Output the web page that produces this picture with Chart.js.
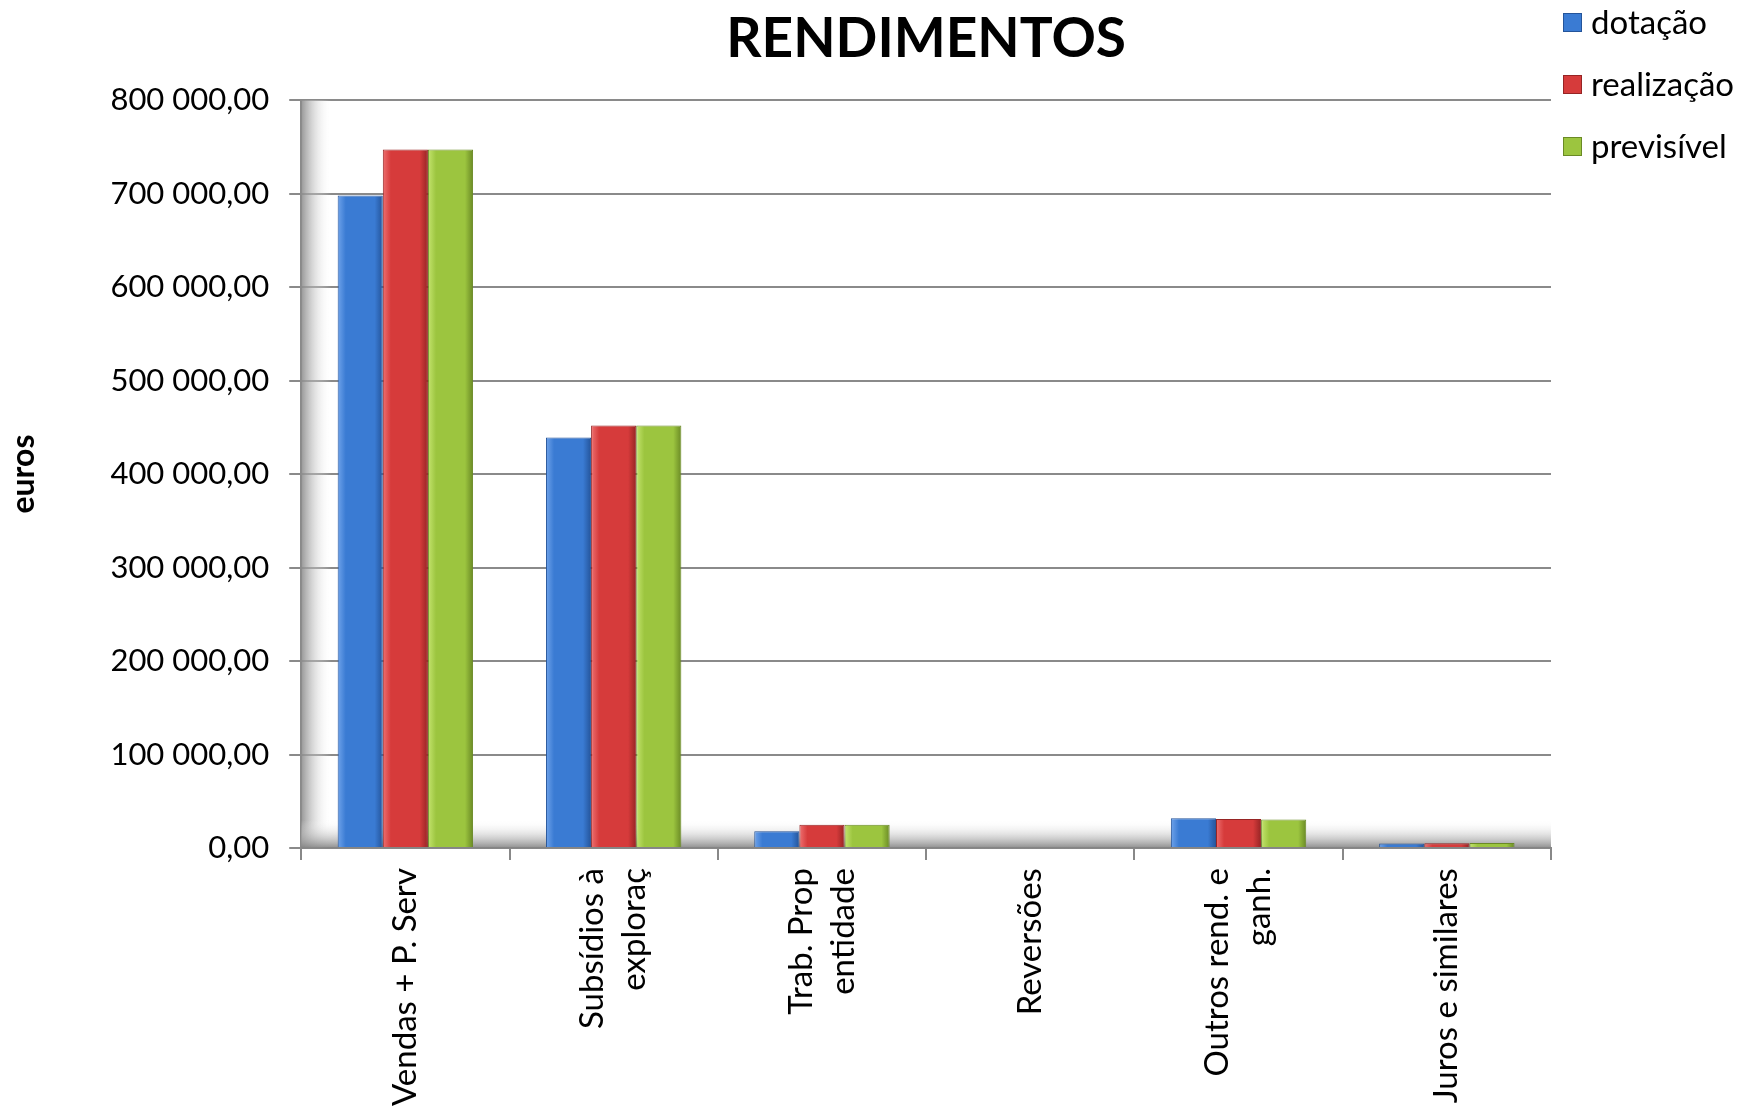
<!DOCTYPE html>
<html lang="pt">
<head>
    <meta charset="UTF-8">
    <title>Rendimentos</title>
    <style>
        html, body {
            margin: 0;
            padding: 0;
            background-color: #fff;
        }

        .wrap {
            width: 1757px;
            height: 1114px;
            position: relative;
        }
    </style>
</head>
<body>
    <div class="wrap">
        <canvas id="rendChart"></canvas>
    </div>

    <script src="https://cdn.jsdelivr.net/npm/chart.js"></script>
    <script>
        // dados
        const categorias = [
            'Vendas + P. Serv',
            ['Subsídios à', 'exploraç'],
            ['Trab. Prop', 'entidade'],
            'Reversões',
            ['Outros rend. e', 'ganh.'],
            'Juros e similares'
        ];
        const dotacao = [698000, 439000, 18000, 0, 32000, 5000];
        const realizacao = [747000, 452000, 25000, 0, 31000, 5200];
        const previsivel = [747000, 452000, 25000, 0, 30500, 5500];
        const nomesSeries = ['dotação', 'realização', 'previsível'];
        const eixoMax = 800000;
        const eixoPasso = 100000;

        const FONT = 'Lato, "Open Sans", sans-serif';
        const X_FONT = 33;
        const X_LH = 42;
        const CAT_PCT = 0.65;

        // cor base, realce e sombra de cada série
        const cores = [
            { base: '#3a7bd3', claro: '#6fa3ea', escuro: '#24549a' },
            { base: '#d63b3b', claro: '#ee7070', escuro: '#962424' },
            { base: '#9cc53f', claro: '#c4e46e', escuro: '#6a8a25' }
        ];

        function formatEuros(v) {
            const parts = Number(v).toFixed(2).split('.');
            const inteiro = parts[0].replace(/\B(?=(\d{3})+(?!\d))/g, ' ');
            return inteiro + ',' + parts[1];
        }

        // rótulos de uma linha: evita o desvio extra (fica centrado no tick)
        function umaLinha(ctx) {
            return !Array.isArray(categorias[ctx.index]);
        }

        // gradiente horizontal em cada barra (aspecto 3D)
        function preenchimento(c) {
            const cor = cores[c.datasetIndex];
            const xs = c.chart.scales.x;
            if (c.type !== 'data' || !xs || !isFinite(xs.left) || xs.right <= xs.left) return cor.base;
            const barW = (xs.right - xs.left) / categorias.length * CAT_PCT / 3;
            const cx = xs.getPixelForValue(c.dataIndex) + (c.datasetIndex - 1) * barW;
            const l = cx - barW / 2, r = cx + barW / 2;
            if (!isFinite(l) || !isFinite(r)) return cor.base;
            const g = c.chart.ctx.createLinearGradient(l, 0, r, 0);
            g.addColorStop(0, cor.claro);
            g.addColorStop(0.18, cor.base);
            g.addColorStop(0.82, cor.base);
            g.addColorStop(1, cor.escuro);
            return g;
        }

        // sombra de parede e chão (efeito 3D do original)
        const paredePlugin = {
            id: 'parede',
            beforeDatasetsDraw(chart) {
                const { ctx, chartArea: a } = chart;
                ctx.save();
                let g = ctx.createLinearGradient(a.left, 0, a.left + 30, 0);
                g.addColorStop(0, 'rgba(140,140,140,0.9)');
                g.addColorStop(1, 'rgba(255,255,255,0)');
                ctx.fillStyle = g;
                ctx.fillRect(a.left, a.top, 30, a.bottom - a.top);
                g = ctx.createLinearGradient(0, a.bottom - 28, 0, a.bottom);
                g.addColorStop(0, 'rgba(255,255,255,0)');
                g.addColorStop(1, 'rgba(130,130,130,0.9)');
                ctx.fillStyle = g;
                ctx.fillRect(a.left, a.bottom - 28, a.right - a.left, 28);
                ctx.restore();
            }
        };

        // legenda no canto superior direito
        const legendaPlugin = {
            id: 'legenda',
            afterDraw(chart) {
                const { ctx, chartArea: a } = chart;
                ctx.save();
                ctx.font = '33px ' + FONT;
                ctx.textBaseline = 'middle';
                chart.data.datasets.forEach((ds, i) => {
                    const x = a.right + 12;
                    const y = 22 + i * 62;
                    ctx.fillStyle = cores[i].base;
                    ctx.fillRect(x, y - 9, 19, 19);
                    ctx.strokeStyle = cores[i].escuro;
                    ctx.lineWidth = 1;
                    ctx.strokeRect(x + 0.5, y - 8.5, 18, 18);
                    ctx.fillStyle = '#000';
                    ctx.fillText(ds.label, x + 28, y + 1);
                });
                ctx.restore();
            }
        };

        const ctx = document.getElementById('rendChart').getContext('2d');
        new Chart(ctx, {
            type: 'bar',
            data: {
                labels: categorias,
                datasets: [
                    { label: nomesSeries[0], data: dotacao, borderColor: cores[0].escuro },
                    { label: nomesSeries[1], data: realizacao, borderColor: cores[1].escuro },
                    { label: nomesSeries[2], data: previsivel, borderColor: cores[2].escuro }
                ]
            },
            options: {
                responsive: true,
                maintainAspectRatio: false,
                animation: false,
                layout: {
                    padding: { left: 0, right: 206, top: 0, bottom: 0 }
                },
                datasets: {
                    bar: {
                        barPercentage: 1,
                        categoryPercentage: CAT_PCT,
                        borderWidth: 1,
                        backgroundColor: preenchimento
                    }
                },
                plugins: {
                    legend: { display: false },
                    tooltip: { enabled: false },
                    title: {
                        display: true,
                        text: 'RENDIMENTOS',
                        fullSize: false,
                        color: '#000',
                        font: { family: FONT, size: 55, weight: 'bold', lineHeight: 1.2 },
                        padding: { top: 6, bottom: 28 }
                    }
                },
                scales: {
                    x: {
                        grid: {
                            display: true,
                            drawOnChartArea: false,
                            drawTicks: true,
                            tickLength: 12,
                            color: '#888',
                            lineWidth: 2
                        },
                        border: { color: '#888', width: 2 },
                        ticks: {
                            color: '#000',
                            minRotation: 90,
                            maxRotation: 90,
                            padding: 8,
                            labelOffset: -X_LH / 2,
                            showLabelBackdrop: umaLinha,
                            backdropColor: 'rgba(255,255,255,0)',
                            backdropPadding: 0,
                            font: { family: FONT, size: X_FONT, lineHeight: X_LH + 'px' }
                        }
                    },
                    y: {
                        min: 0,
                        max: eixoMax,
                        grid: {
                            color: '#8a8a8a',
                            lineWidth: 2,
                            tickLength: 12
                        },
                        border: { color: '#8a8a8a', width: 2 },
                        ticks: {
                            stepSize: eixoPasso,
                            color: '#000',
                            padding: 20,
                            font: { family: FONT, size: 31 },
                            callback: (v) => formatEuros(v)
                        },
                        title: {
                            display: true,
                            text: 'euros',
                            color: '#000',
                            font: { family: FONT, size: 32, weight: 'bold' },
                            padding: { top: 4, bottom: 48 }
                        }
                    }
                }
            },
            plugins: [paredePlugin, legendaPlugin]
        });
    </script>
</body>
</html>
